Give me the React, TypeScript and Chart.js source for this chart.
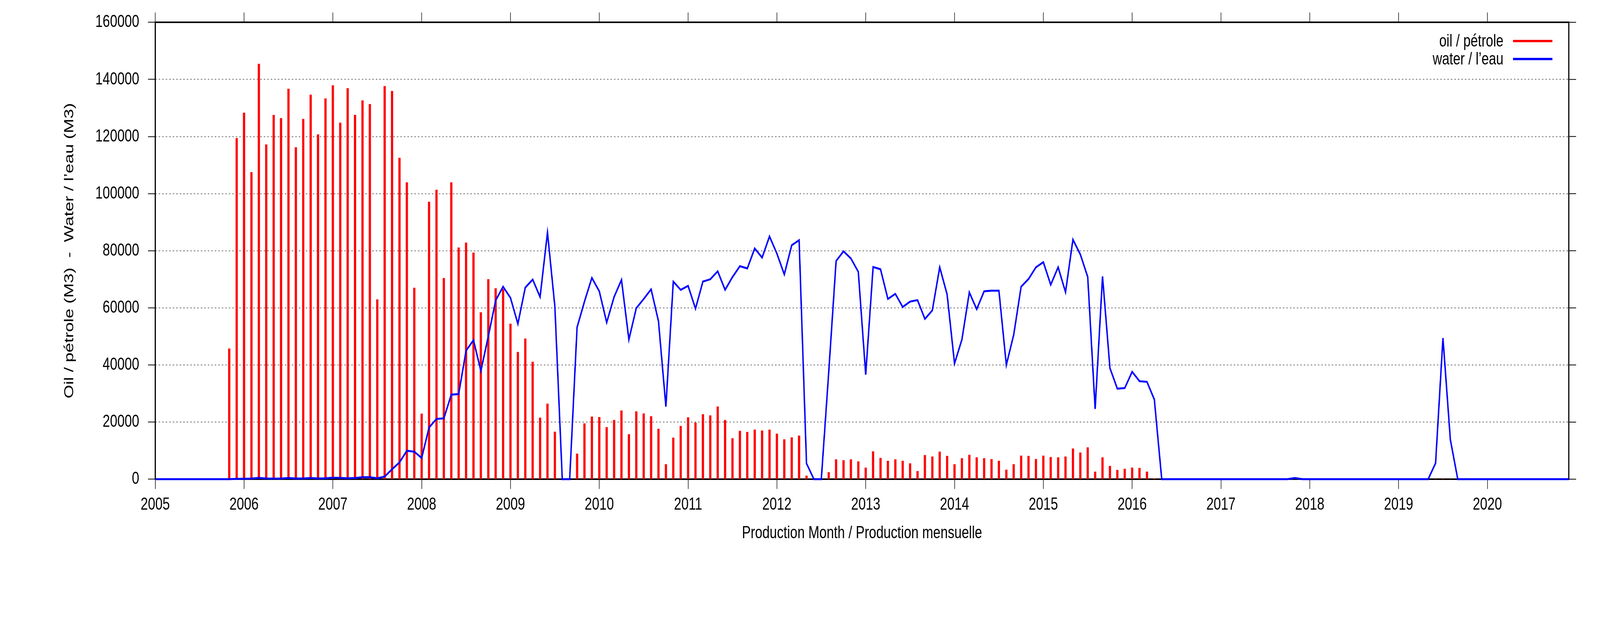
import { useEffect, useRef } from 'react';
import { Chart, registerables } from 'chart.js';
import type { Plugin } from 'chart.js';

Chart.register(...registerables);

// months Jan..Dec per year, M3
const years = [2005, 2006, 2007, 2008, 2009, 2010, 2011, 2012, 2013, 2014, 2015, 2016, 2017, 2018, 2019, 2020];

const oil2005 = [0, 0, 0, 0, 0, 0, 0, 0, 0, 0, 45700, 119400];
const oil2006 = [128300, 107500, 145400, 117200, 127500, 126400, 136700, 116200, 126100, 134600, 120700, 133300];
const oil2007 = [137900, 124800, 136900, 127500, 132600, 131300, 62900, 137600, 135900, 112500, 103900, 67000];
const oil2008 = [22900, 97100, 101300, 70400, 103900, 81100, 82800, 79300, 58400, 70000, 66800, 66500];
const oil2009 = [54400, 44500, 49200, 41100, 21500, 26400, 16600, 0, 0, 8900, 19500, 21900];
const oil2010 = [21700, 18200, 20700, 24000, 15700, 23700, 23000, 22000, 17600, 5200, 14500, 18600];
const oil2011 = [21600, 19800, 22700, 22300, 25400, 20700, 14300, 16900, 16500, 17300, 17000, 17300];
const oil2012 = [15900, 13900, 14600, 15200, 1200, 0, 0, 2400, 6900, 6600, 6900, 6200];
const oil2013 = [4000, 9700, 7400, 6400, 6900, 6400, 5500, 2800, 8400, 7900, 9600, 8100];
const oil2014 = [5200, 7300, 8500, 7600, 7300, 7000, 6400, 3300, 5200, 8200, 8100, 7000];
const oil2015 = [8200, 7700, 7600, 7900, 10700, 9300, 11100, 2600, 7600, 4600, 3200, 3600];
const oil2016 = [4000, 3900, 2600, 200, 0, 0, 0, 0, 0, 0, 0, 0];
const oil2017 = [0, 0, 0, 0, 0, 0, 0, 0, 0, 0, 0, 0];
const oil2018 = [0, 0, 0, 0, 0, 0, 0, 0, 0, 0, 0, 0];
const oil2019 = [0, 0, 0, 0, 0, 0, 100, 0, 0, 0, 0, 0];
const oil2020 = [0, 0, 0, 0, 0, 0, 0, 0, 0, 0, 0, 0];

const water2005 = [0, 0, 0, 0, 0, 0, 0, 0, 0, 0, 0, 100];
const water2006 = [150, 200, 450, 250, 200, 200, 400, 250, 250, 400, 250, 300];
const water2007 = [500, 450, 300, 400, 700, 700, 300, 900, 3480, 5860, 9950, 9630];
const water2008 = [7400, 18100, 21100, 21300, 29600, 29800, 45000, 48700, 37900, 50000, 62600, 67400];
const water2009 = [63500, 54400, 67100, 69900, 63800, 86400, 60400, 0, 0, 53200, 62200, 70500];
const water2010 = [65800, 54900, 63800, 69800, 48900, 59900, 63100, 66500, 55300, 25400, 69200, 66300];
const water2011 = [67700, 59700, 69200, 70000, 72800, 66300, 70800, 74600, 73800, 80800, 77600, 85000];
const water2012 = [79000, 71700, 81900, 83700, 5500, 0, 0, 37400, 76400, 79800, 77300, 72600];
const water2013 = [36600, 74300, 73500, 63100, 64900, 60300, 62200, 62700, 56100, 59100, 74200, 64700];
const water2014 = [40500, 48900, 65400, 59500, 65800, 66000, 66000, 40000, 50600, 67400, 70100, 74200];
const water2015 = [76000, 68100, 74200, 65500, 83900, 78700, 70800, 24600, 71000, 38900, 31700, 31900];
const water2016 = [37600, 34300, 34100, 27900, 0, 0, 0, 0, 0, 0, 0, 0];
const water2017 = [0, 0, 0, 0, 0, 0, 0, 0, 0, 0, 400, 0];
const water2018 = [0, 0, 0, 0, 0, 0, 0, 0, 0, 0, 0, 0];
const water2019 = [0, 0, 0, 0, 0, 5600, 49400, 13800, 0, 0, 0, 0];
const water2020 = [0, 0, 0, 0, 0, 0, 0, 0, 0, 0, 0, 0];

const oilByYear = [oil2005, oil2006, oil2007, oil2008, oil2009, oil2010, oil2011, oil2012,
  oil2013, oil2014, oil2015, oil2016, oil2017, oil2018, oil2019, oil2020];
const waterByYear = [water2005, water2006, water2007, water2008, water2009, water2010, water2011, water2012,
  water2013, water2014, water2015, water2016, water2017, water2018, water2019, water2020];

const yTicks = [0, 20000, 40000, 60000, 80000, 100000, 120000, 140000, 160000];

const FONT = '"Liberation Sans", Arial, Helvetica, sans-serif';

const toPoints = (rows: number[][]) =>
  years.flatMap((yr, i) => rows[i].map((v, m) => ({ x: yr + m / 12, y: v })));

// gnuplot-style frame with mirrored ticks on top and right
const framePlugin: Plugin = {
  id: 'frame',
  beforeDatasetsDraw(chart) {
    const { ctx, chartArea } = chart;
    const { left, right, top, bottom } = chartArea;
    const xs = chart.scales.x;
    const ys = chart.scales.y;
    ctx.save();
    ctx.strokeStyle = '#000';
    ctx.lineWidth = 2;
    ctx.beginPath();
    xs.ticks.forEach((t) => {
      const p = xs.getPixelForValue(t.value);
      ctx.moveTo(p, top);
      ctx.lineTo(p, top - 25);
    });
    ys.ticks.forEach((t) => {
      const p = ys.getPixelForValue(t.value);
      ctx.moveTo(right, p);
      ctx.lineTo(right + 25, p);
    });
    ctx.stroke();
    ctx.lineWidth = 4;
    ctx.strokeRect(left, top, right - left, bottom - top);
    ctx.restore();
  },
};

const legendPlugin: Plugin = {
  id: 'cornerLegend',
  afterDraw(chart) {
    const { ctx, chartArea } = chart;
    ctx.save();
    ctx.font = `45px ${FONT}`;
    ctx.textAlign = 'right';
    ctx.textBaseline = 'middle';
    chart.data.datasets.forEach((ds, i) => {
      const y = chartArea.top + 48 + i * 46;
      ctx.fillStyle = '#000';
      ctx.fillText(String(ds.label), chartArea.right - 224, y + 2);
      ctx.strokeStyle = ds.borderColor as string;
      ctx.lineWidth = 6;
      ctx.beginPath();
      ctx.moveTo(chartArea.right - 191, y);
      ctx.lineTo(chartArea.right - 56, y);
      ctx.stroke();
    });
    ctx.restore();
  },
};

const App = () => {
  const canvasRef = useRef<HTMLCanvasElement | null>(null);

  useEffect(() => {
    document.body.style.margin = '0';
    document.body.style.overflow = 'hidden';
    const canvas = canvasRef.current;
    if (!canvas) return;
    const existing = Chart.getChart(canvas);
    if (existing) existing.destroy();

    Chart.defaults.font.family = FONT;
    Chart.defaults.font.size = 45;
    Chart.defaults.color = '#000';

    // drawn on a 5483x1594 bitmap, stretched by CSS over the whole window
    const chart = new Chart(canvas, {
      type: 'bar',
      data: {
        datasets: [
          {
            type: 'bar',
            label: 'oil / pétrole',
            data: toPoints(oilByYear),
            backgroundColor: '#ff0000',
            borderColor: '#ff0000',
            borderWidth: 0,
            barThickness: 7,
            order: 1,
          },
          {
            type: 'line',
            label: 'water / l’eau',
            data: toPoints(waterByYear),
            borderColor: '#0000ff',
            backgroundColor: '#0000ff',
            borderWidth: 5,
            pointRadius: 0,
            tension: 0,
            fill: false,
            clip: false,
            order: 0,
          } as any,
        ],
      },
      options: {
        responsive: false,
        animation: false,
        devicePixelRatio: 1,
        layout: { padding: { left: 212, top: 46, right: 107, bottom: 202 } },
        plugins: {
          legend: { display: false },
          tooltip: { enabled: false },
        },
        scales: {
          x: {
            type: 'linear',
            min: 2005,
            max: 2005 + 191 / 12,
            offset: false,
            afterBuildTicks: (s) => {
              s.ticks = years.map((v) => ({ value: v }));
            },
            afterFit: (s) => {
              s.height = 166;
            },
            ticks: {
              maxRotation: 0,
              autoSkip: false,
              padding: 14,
              callback: (v) => String(v),
            },
            grid: {
              drawOnChartArea: false,
              drawTicks: true,
              tickLength: 25,
              tickWidth: 2,
              tickColor: '#000',
              offset: false,
            },
            border: { display: false },
            title: {
              display: true,
              text: 'Production Month / Production mensuelle',
              padding: 0,
            },
          },
          y: {
            min: 0,
            max: 160000,
            afterBuildTicks: (s) => {
              s.ticks = yTicks.map((v) => ({ value: v }));
            },
            afterFit: (s) => {
              s.width = 320;
            },
            ticks: {
              padding: 30,
              callback: (v) => String(v),
            },
            grid: {
              color: 'rgba(0,0,0,0.75)',
              lineWidth: 1.5,
              drawTicks: true,
              tickLength: 25,
              tickWidth: 2,
              tickColor: '#000',
              tickBorderDash: [],
            },
            border: { display: false, dash: [5, 7] },
            title: {
              display: true,
              text: 'Oil / pétrole (M3)  -  Water / l’eau (M3)',
              padding: 0,
            },
          },
        },
      },
      plugins: [framePlugin, legendPlugin],
    });

    return () => {
      chart.destroy();
    };
  }, []);

  return (
    <canvas
      ref={canvasRef}
      width={5483}
      height={1594}
      style={{ display: 'block', width: '100vw', height: '100vh', background: '#fff' }}
    />
  );
};

export default App;
